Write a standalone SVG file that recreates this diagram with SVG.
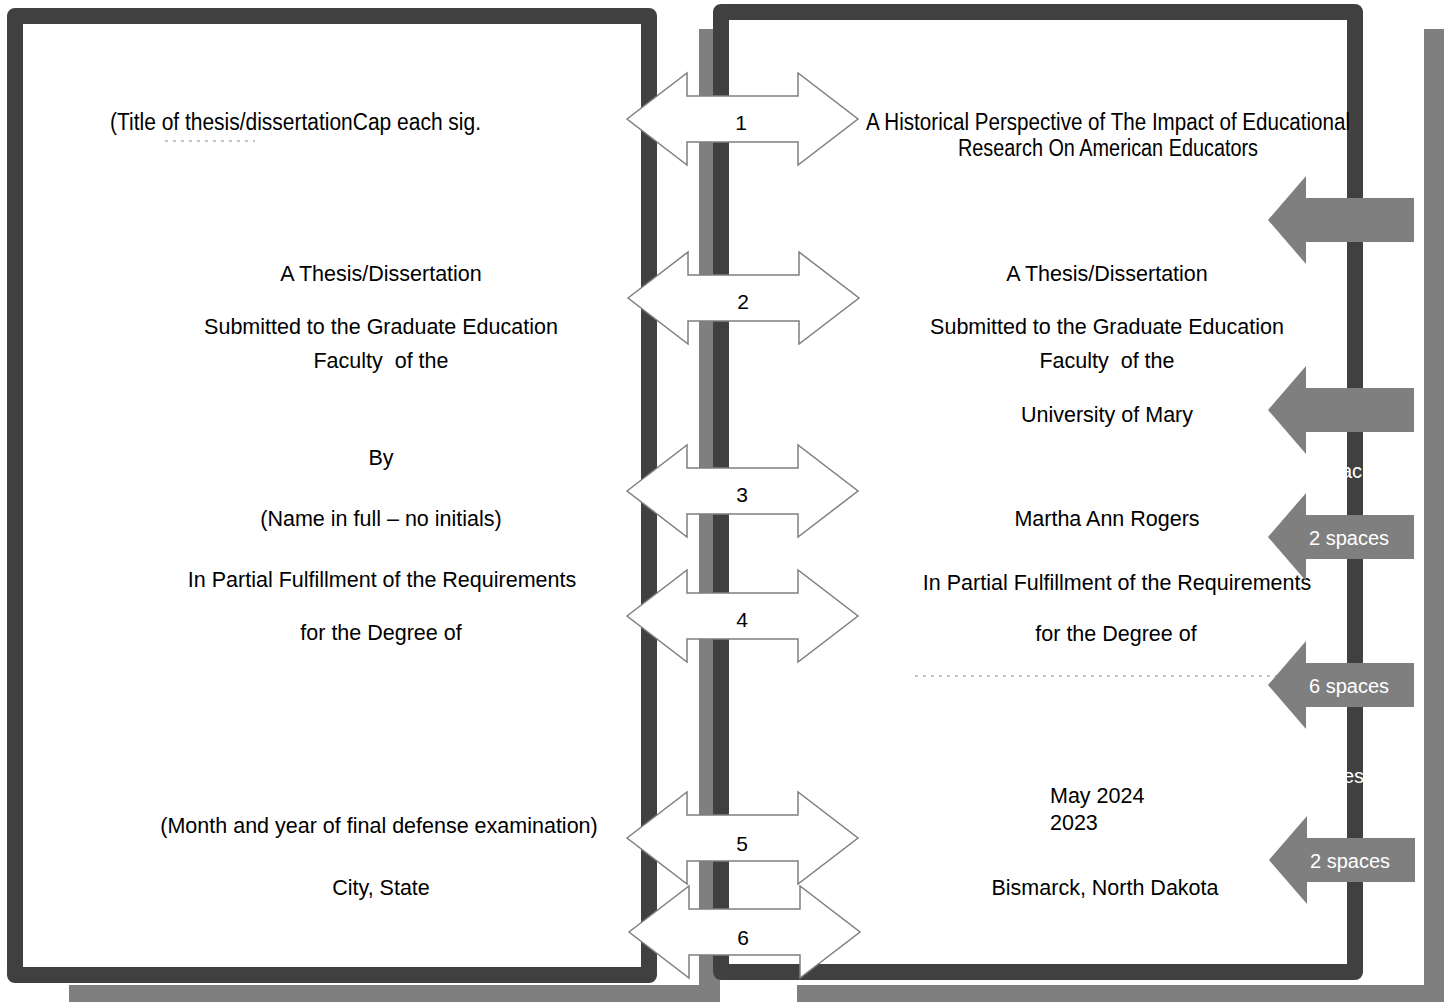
<svg xmlns="http://www.w3.org/2000/svg" width="1454" height="1002" viewBox="0 0 1454 1002">
<style>
.shadow{fill:#7f7f7f}
.page{fill:#ffffff;stroke:#404040;stroke-width:16;stroke-linejoin:round}
.t{font-family:"Liberation Sans",Arial,sans-serif;font-size:21.5px;fill:#000;text-anchor:middle}
.tl{font-family:"Liberation Sans",Arial,sans-serif;font-size:21.5px;fill:#000}
.tc{font-family:"Liberation Sans",Arial,sans-serif;font-size:23px;fill:#000}
.num{font-family:"Liberation Sans",Arial,sans-serif;font-size:21px;fill:#000;text-anchor:middle}
.dbl{fill:#ffffff;stroke:#7f7f7f;stroke-width:1.5;stroke-linejoin:miter}
.ga{fill:#7f7f7f}
.gl{font-family:"Liberation Sans",Arial,sans-serif;font-size:20px;fill:#ffffff;text-anchor:middle}
.wt{font-family:"Liberation Sans",Arial,sans-serif;font-size:20px;fill:#ffffff}
.frag{stroke:#b0b0b0;stroke-width:1.5;stroke-dasharray:3 5;fill:none}
</style>
<defs>
<path id="dblArrow" d="M628,0 L688,-46 L688,-23 L799,-23 L799,-46 L859,0 L799,46 L799,23 L688,23 L688,46 Z"/>
<path id="leftArrow" d="M1268,0 L1306,-44 L1306,-22 L1414,-22 L1414,22 L1306,22 L1306,44 Z"/>
</defs>
<rect width="1454" height="1002" fill="#ffffff"/>

<g id="shadows">
<rect class="shadow" x="699" y="29" width="21" height="973"/>
<rect class="shadow" x="69" y="985" width="651" height="17"/>
<rect class="shadow" x="1424" y="29" width="20" height="973"/>
<rect class="shadow" x="797" y="985" width="647" height="17"/>
</g>

<g id="left-page">
<rect class="page" x="15" y="16" width="634" height="959"/>
<text class="tc" x="110" y="130" textLength="371" lengthAdjust="spacingAndGlyphs">(Title of thesis/dissertationCap each sig.</text>
<line class="frag" x1="165" y1="141" x2="255" y2="141"/>
<text class="t" x="381" y="281">A Thesis/Dissertation</text>
<text class="t" x="381" y="334">Submitted to the Graduate Education</text>
<text class="t" x="381" y="368" xml:space="preserve">Faculty  of the</text>
<text class="t" x="381" y="465">By</text>
<text class="t" x="381" y="526">(Name in full – no initials)</text>
<text class="t" x="382" y="587">In Partial Fulfillment of the Requirements</text>
<text class="t" x="381" y="640">for the Degree of</text>
<text class="t" x="379" y="833">(Month and year of final defense examination)</text>
<text class="t" x="381" y="895">City, State</text>
</g>

<g id="right-page">
<rect class="page" x="721" y="12" width="634" height="960"/>
<text class="tc" x="866" y="130" textLength="484" lengthAdjust="spacingAndGlyphs">A Historical Perspective of The Impact of Educational</text>
<text class="tc" x="958" y="156" textLength="300" lengthAdjust="spacingAndGlyphs">Research On American Educators</text>
<text class="t" x="1107" y="281">A Thesis/Dissertation</text>
<text class="t" x="1107" y="334">Submitted to the Graduate Education</text>
<text class="t" x="1107" y="368" xml:space="preserve">Faculty  of the</text>
<text class="t" x="1107" y="422">University of Mary</text>
<text class="wt" x="1341" y="478">ac</text>
<text class="t" x="1107" y="526">Martha Ann Rogers</text>
<text class="t" x="1117" y="590">In Partial Fulfillment of the Requirements</text>
<text class="t" x="1116" y="641">for the Degree of</text>
<line class="frag" x1="915" y1="676" x2="1290" y2="676"/>
<text class="wt" x="1343" y="783">es</text>
<text class="tl" x="1050" y="803">May 2024</text>
<text class="tl" x="1050" y="830">2023</text>
<text class="t" x="1105" y="895">Bismarck, North Dakota</text>
</g>

<g id="spacing-notes">
<g id="note-1"><use href="#leftArrow" class="ga" transform="translate(0,220)"/></g>
<g id="note-2"><use href="#leftArrow" class="ga" transform="translate(0,410)"/></g>
<g id="note-3"><use href="#leftArrow" class="ga" transform="translate(0,537)"/><text class="gl" x="1349" y="545">2 spaces</text></g>
<g id="note-4"><use href="#leftArrow" class="ga" transform="translate(0,685)"/><text class="gl" x="1349" y="693">6 spaces</text></g>
<g id="note-5"><use href="#leftArrow" class="ga" transform="translate(1,860)"/><text class="gl" x="1350" y="868">2 spaces</text></g>
</g>

<g id="connectors">
<g id="link-1"><use href="#dblArrow" class="dbl" transform="translate(-1,119)"/><text class="num" x="741" y="130">1</text></g>
<g id="link-2"><use href="#dblArrow" class="dbl" transform="translate(0,298)"/><text class="num" x="743" y="309">2</text></g>
<g id="link-3"><use href="#dblArrow" class="dbl" transform="translate(-1,491)"/><text class="num" x="742" y="502">3</text></g>
<g id="link-4"><use href="#dblArrow" class="dbl" transform="translate(-1,616)"/><text class="num" x="742" y="627">4</text></g>
<g id="link-5"><use href="#dblArrow" class="dbl" transform="translate(-1,838)"/><text class="num" x="742" y="851">5</text></g>
<g id="link-6"><use href="#dblArrow" class="dbl" transform="translate(1,932)"/><text class="num" x="743" y="945">6</text></g>
</g>
</svg>
